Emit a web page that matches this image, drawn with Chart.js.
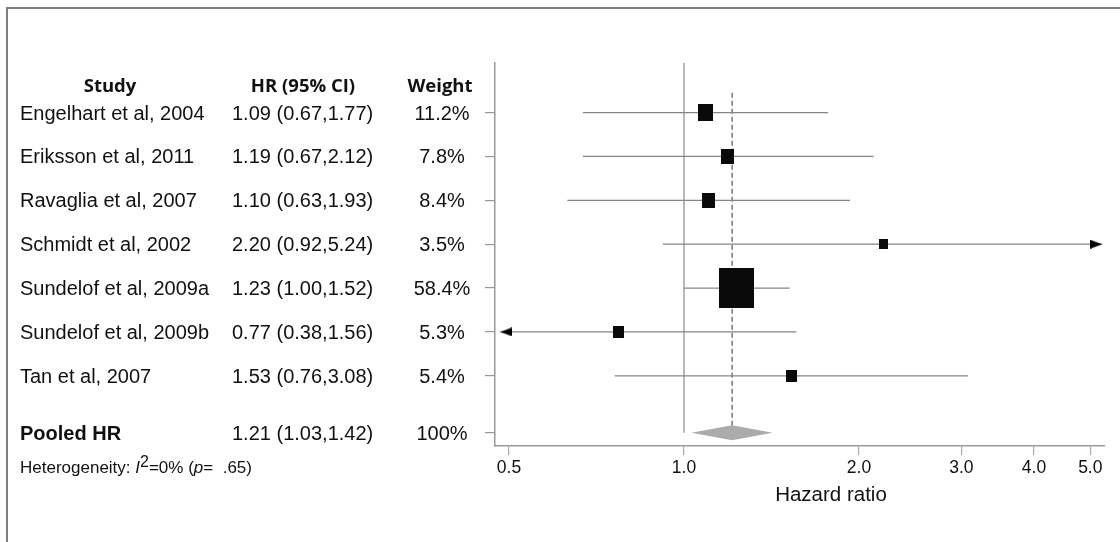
<!DOCTYPE html>
<html>
<head>
<meta charset="utf-8">
<script src="https://cdn.jsdelivr.net/npm/chart.js@4.4.1/dist/chart.umd.min.js"></script>
<style>
  html, body { margin: 0; padding: 0; background: #fff; }
  #wrap { position: relative; width: 1120px; height: 542px; overflow: hidden;
          font-family: "Liberation Sans", Arial, sans-serif; color: #111; }
  #frame { position: absolute; left: 6px; top: 7px; width: 1200px; height: 600px;
           border-left: 2px solid #7d7d7d; border-top: 2px solid #7d7d7d; }
  canvas { position: absolute; left: 0; top: 0; }
  .txt { position: absolute; white-space: nowrap; line-height: 1; font-size: 20px; transform: translateY(-50%); }
  .mid { transform: translate(-50%, -50%); }
  .hdr { font-family: "Open Sans", sans-serif; font-weight: 700; font-size: 18.5px; }
  .pool { font-weight: 700; }
  .het { font-size: 17px; }
  .het sup { font-size: 16px; vertical-align: 6px; line-height: 0; }
  .axt { font-size: 20.5px; }
</style>
</head>
<body>
<div id="wrap">
  <div id="frame"></div>
  <canvas id="forest" width="1120" height="542"></canvas>
</div>
<script>
const studies = [
  "Engelhart et al, 2004",
  "Eriksson et al, 2011",
  "Ravaglia et al, 2007",
  "Schmidt et al, 2002",
  "Sundelof et al, 2009a",
  "Sundelof et al, 2009b",
  "Tan et al, 2007"
];
const hr = [1.09, 1.19, 1.10, 2.20, 1.23, 0.77, 1.53];
const ciLow = [0.67, 0.67, 0.63, 0.92, 1.00, 0.38, 0.76];
const ciHigh = [1.77, 2.12, 1.93, 5.24, 1.52, 1.56, 3.08];
const weights = [11.2, 7.8, 8.4, 3.5, 58.4, 5.3, 5.4];
const rows = [1, 2, 3, 4, 5, 6, 7];

const pooledHr = 1.21;
const pooledLow = 1.03;
const pooledHigh = 1.42;
const pooledRow = 8.3;

const tickValues = [0.5, 1, 2, 3, 4, 5];
const tickLabels = ["0.5", "1.0", "2.0", "3.0", "4.0", "5.0"];

// axis range and where the CI lines get cut off with an arrow
const xMin = 0.473, xMax = 5.3;
const arrowLo = 0.483, arrowHi = 5.24;
const yMin = -0.13, yMax = 8.6;
const headerRow = 0.37, hetRow = 9.08, axisTitleRow = 9.7;

const FONT = '"Liberation Sans", Arial, sans-serif';

function makeBox(w, h) {
  const c = document.createElement("canvas");
  c.width = w;
  c.height = h;
  const g = c.getContext("2d");
  g.fillStyle = "#0a0a0a";
  g.fillRect(0, 0, w, h);
  return c;
}

function makeArrow(dir) {
  const c = document.createElement("canvas");
  c.width = 24;
  c.height = 9;
  const g = c.getContext("2d");
  g.fillStyle = "#000";
  g.beginPath();
  if (dir > 0) {
    g.moveTo(0, 0); g.lineTo(12, 4.5); g.lineTo(0, 9);
  } else {
    g.moveTo(24, 0); g.lineTo(12, 4.5); g.lineTo(24, 9);
  }
  g.closePath();
  g.fill();
  return c;
}

const boxes = weights.map(w => makeBox(Math.round(4.6 * Math.sqrt(w)), Math.round(5.2 * Math.sqrt(w))));
const arrowR = makeArrow(1);
const arrowL = makeArrow(-1);

const ciSets = studies.map((s, i) => ({
  type: "scatter",
  showLine: true,
  data: [{x: Math.max(ciLow[i], arrowLo), y: rows[i]}, {x: Math.min(ciHigh[i], arrowHi), y: rows[i]}],
  borderColor: "#858585",
  borderWidth: 1.2,
  pointRadius: 0,
  order: 2
}));

const arrows = [];
studies.forEach((s, i) => {
  if (ciLow[i] < arrowLo) arrows.push({x: arrowLo, y: rows[i], dir: -1});
  if (ciHigh[i] >= arrowHi) arrows.push({x: arrowHi, y: rows[i], dir: 1});
});

const diamond = {
  id: "diamond",
  afterDatasetsDraw(chart) {
    const {ctx, scales: {x, y}} = chart;
    const yc = y.getPixelForValue(pooledRow);
    const half = 7.5;
    ctx.save();
    ctx.fillStyle = "#ababab";
    ctx.beginPath();
    ctx.moveTo(x.getPixelForValue(pooledLow), yc);
    ctx.lineTo(x.getPixelForValue(pooledHr), yc - half);
    ctx.lineTo(x.getPixelForValue(pooledHigh), yc);
    ctx.lineTo(x.getPixelForValue(pooledHr), yc + half);
    ctx.closePath();
    ctx.fill();
    ctx.restore();
  }
};

const chart = new Chart(document.getElementById("forest"), {
  type: "scatter",
  data: {
    datasets: [
      {
        data: hr.map((v, i) => ({x: v, y: rows[i]})),
        pointStyle: c => boxes[c.dataIndex],
        pointRadius: 3,
        order: 0
      },
      {
        data: arrows,
        pointStyle: c => (c.raw.dir > 0 ? arrowR : arrowL),
        pointRadius: 3,
        order: 0
      },
      {
        showLine: true,
        data: [{x: 1, y: yMin}, {x: 1, y: pooledRow}],
        borderColor: "#8a8a8a",
        borderWidth: 1.2,
        pointRadius: 0,
        order: 3
      },
      {
        showLine: true,
        data: [{x: pooledHr, y: 0.55}, {x: pooledHr, y: pooledRow}],
        borderColor: "#555",
        borderWidth: 1.2,
        borderDash: [5, 3],
        pointRadius: 0,
        order: 3
      },
      ...ciSets
    ]
  },
  options: {
    responsive: false,
    animation: false,
    layout: {padding: {left: 485, right: 15, top: 63, bottom: 60}},
    plugins: {legend: {display: false}, tooltip: {enabled: false}},
    scales: {
      x: {
        type: "logarithmic",
        min: xMin,
        max: xMax,
        afterBuildTicks: a => { a.ticks = tickValues.map(v => ({value: v})); },
        ticks: {
          callback: (v, i) => tickLabels[i],
          font: {family: FONT, size: 17.5},
          color: "#111",
          padding: 3,
          maxRotation: 0,
          autoSkip: false
        },
        grid: {drawOnChartArea: false, tickLength: 9, color: "#aaa", lineWidth: 1.2},
        border: {color: "#999", width: 1.5}
      },
      y: {
        min: yMin,
        max: yMax,
        reverse: true,
        afterBuildTicks: a => { a.ticks = [...rows, pooledRow].map(v => ({value: v})); },
        ticks: {display: false},
        grid: {drawOnChartArea: false, tickLength: 10, color: "#999", lineWidth: 1.2},
        border: {color: "#999", width: 1.5}
      }
    }
  },
  plugins: [diamond]
});

// table columns on the left, placed on the same rows as the marks
const wrap = document.getElementById("wrap");
const yPix = v => chart.scales.y.getPixelForValue(v);
function addText(html, x, row, cls) {
  const d = document.createElement("div");
  d.className = "txt " + (cls || "");
  d.innerHTML = html;
  d.style.left = x + "px";
  d.style.top = yPix(row) + "px";
  wrap.appendChild(d);
}

addText("Study", 110, headerRow, "hdr mid");
addText("HR (95% CI)", 303, headerRow, "hdr mid");
addText("Weight", 440, headerRow, "hdr mid");

studies.forEach((s, i) => {
  addText(s, 20, rows[i]);
  addText(`${hr[i].toFixed(2)} (${ciLow[i].toFixed(2)},${ciHigh[i].toFixed(2)})`, 232, rows[i]);
  addText(`${weights[i].toFixed(1)}%`, 442, rows[i], "mid");
});

addText("Pooled HR", 20, pooledRow, "pool");
addText(`${pooledHr.toFixed(2)} (${pooledLow.toFixed(2)},${pooledHigh.toFixed(2)})`, 232, pooledRow);
addText("100%", 442, pooledRow, "mid");
addText("Heterogeneity: <i>I</i><sup>2</sup>=0% (<i>p</i>=&nbsp; .65)", 20, hetRow, "het");
addText("Hazard ratio", 831, axisTitleRow, "axt mid");
</script>
</body>
</html>
